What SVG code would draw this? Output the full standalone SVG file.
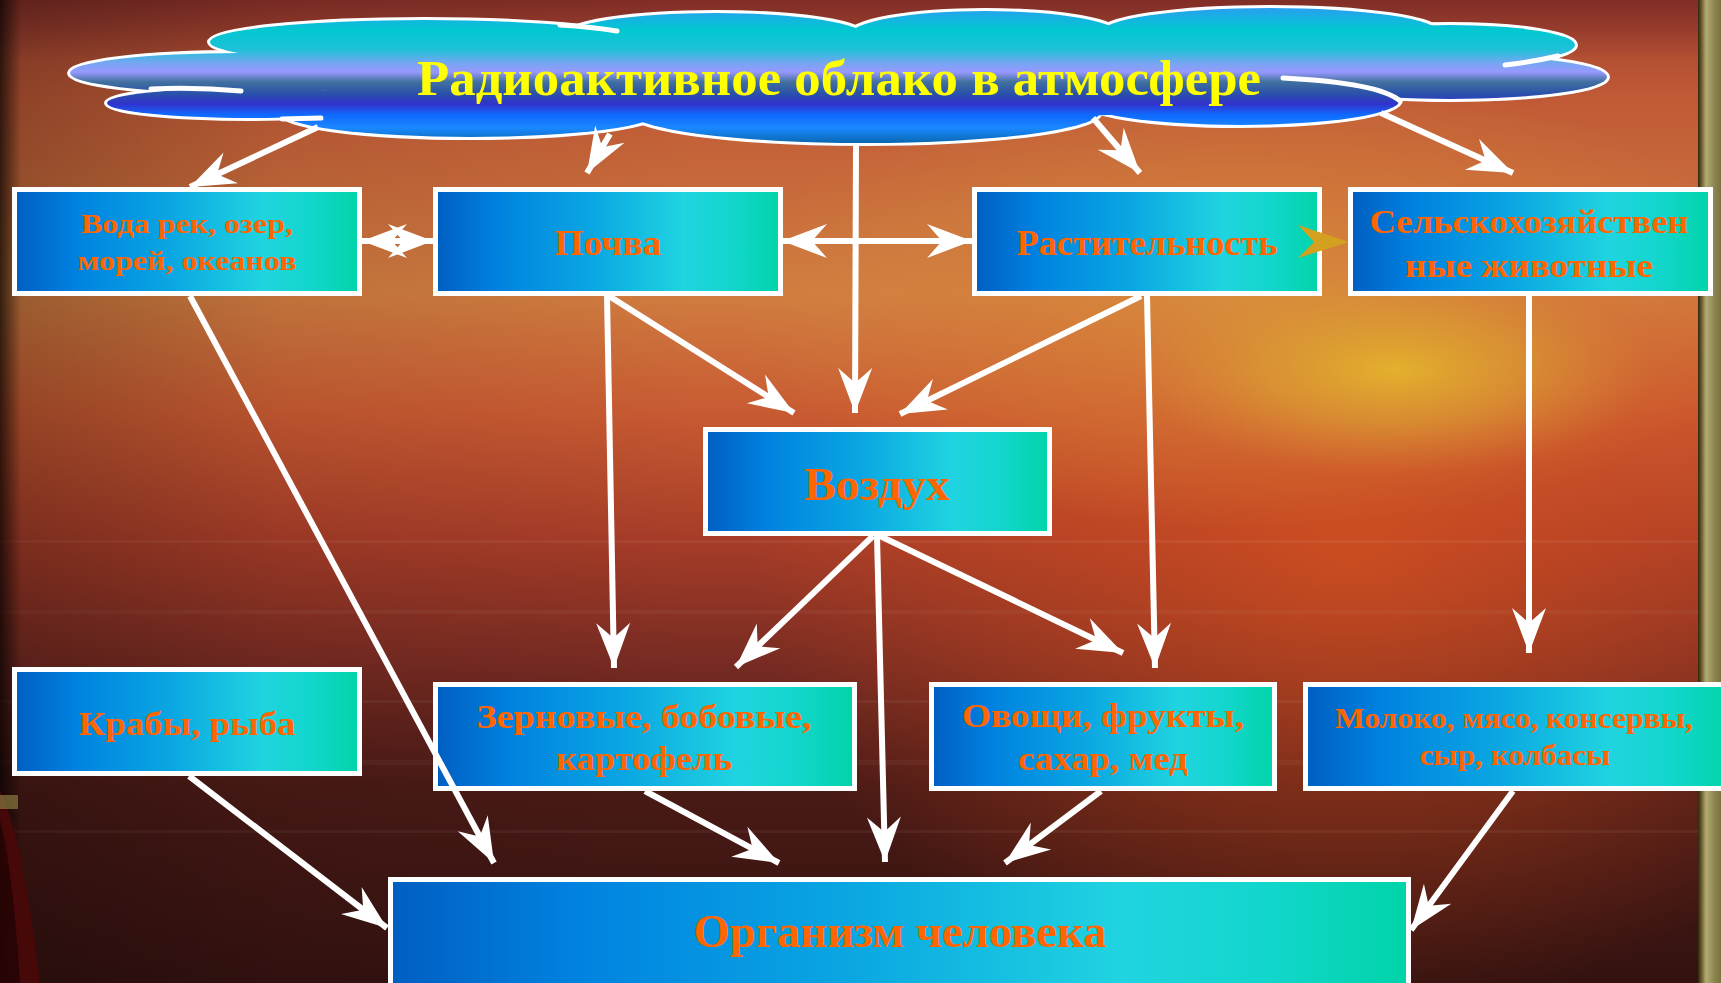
<svg xmlns="http://www.w3.org/2000/svg" width="1721" height="983" viewBox="0 0 1721 983">
<defs>
<linearGradient id="bgV" x1="0" y1="0" x2="0" y2="983" gradientUnits="userSpaceOnUse">
<stop offset="0" stop-color="#a24230"/>
<stop offset="0.1" stop-color="#c05a36"/>
<stop offset="0.3" stop-color="#d07c40"/>
<stop offset="0.42" stop-color="#c85a32"/>
<stop offset="0.55" stop-color="#a63c28"/>
<stop offset="0.68" stop-color="#752a22"/>
<stop offset="0.8" stop-color="#4a1a16"/>
<stop offset="1" stop-color="#341210"/>
</linearGradient>
<linearGradient id="bgL" x1="0" y1="0" x2="700" y2="0" gradientUnits="userSpaceOnUse">
<stop offset="0" stop-color="#000" stop-opacity="0.75"/>
<stop offset="0.03" stop-color="#000" stop-opacity="0.25"/>
<stop offset="0.4" stop-color="#000" stop-opacity="0.08"/>
<stop offset="1" stop-color="#000" stop-opacity="0"/>
</linearGradient>
<linearGradient id="bgTop" x1="0" y1="0" x2="0" y2="60" gradientUnits="userSpaceOnUse">
<stop offset="0" stop-color="#6a2020" stop-opacity="0.6"/>
<stop offset="1" stop-color="#6a2020" stop-opacity="0"/>
</linearGradient>
<radialGradient id="warm" cx="1350" cy="560" r="600" gradientUnits="userSpaceOnUse" gradientTransform="translate(1350 560) scale(1 0.75) translate(-1350 -560)">
<stop offset="0" stop-color="#e0561e" stop-opacity="0.65"/>
<stop offset="0.6" stop-color="#d8501e" stop-opacity="0.3"/>
<stop offset="1" stop-color="#d8501e" stop-opacity="0"/>
</radialGradient>
<radialGradient id="gold" cx="0.5" cy="0.5" r="0.5">
<stop offset="0" stop-color="#dca040" stop-opacity="0.6"/>
<stop offset="0.6" stop-color="#d89040" stop-opacity="0.3"/>
<stop offset="1" stop-color="#d89040" stop-opacity="0"/>
</radialGradient>
<radialGradient id="sun" cx="0.5" cy="0.5" r="0.5">
<stop offset="0" stop-color="#e4b42c" stop-opacity="0.95"/>
<stop offset="0.5" stop-color="#dca232" stop-opacity="0.6"/>
<stop offset="1" stop-color="#d89038" stop-opacity="0"/>
</radialGradient>
<linearGradient id="frame" x1="1698" y1="0" x2="1721" y2="0" gradientUnits="userSpaceOnUse">
<stop offset="0" stop-color="#2e2410"/>
<stop offset="0.15" stop-color="#6a5a2a"/>
<stop offset="0.35" stop-color="#b4ac74"/>
<stop offset="0.7" stop-color="#8e8650"/>
<stop offset="1" stop-color="#7a7240"/>
</linearGradient>
<linearGradient id="cloudG" x1="0" y1="8" x2="0" y2="143" gradientUnits="userSpaceOnUse">
<stop offset="0" stop-color="#28a0f0"/>
<stop offset="0.163" stop-color="#00c8d0"/>
<stop offset="0.31" stop-color="#20c0d8"/>
<stop offset="0.40" stop-color="#70a8f0"/>
<stop offset="0.474" stop-color="#9898ff"/>
<stop offset="0.548" stop-color="#40709e"/>
<stop offset="0.637" stop-color="#2a50aa"/>
<stop offset="0.711" stop-color="#3232cc"/>
<stop offset="0.793" stop-color="#0f6aff"/>
<stop offset="0.889" stop-color="#1a88ff"/>
<stop offset="1" stop-color="#0a68b0"/>
</linearGradient>
<linearGradient id="boxG" x1="0" y1="0" x2="1" y2="0">
<stop offset="0" stop-color="#005ec2"/>
<stop offset="0.18" stop-color="#0082e0"/>
<stop offset="0.45" stop-color="#0aa6e2"/>
<stop offset="0.72" stop-color="#20d4e0"/>
<stop offset="0.86" stop-color="#12d6cc"/>
<stop offset="1" stop-color="#00d4a8"/>
</linearGradient>
<marker id="ah" viewBox="-47 -19 49 38" markerWidth="49" markerHeight="38" refX="0" refY="0" orient="auto" markerUnits="userSpaceOnUse">
<path d="M0,0 L-45,-17 L-30,0 L-45,17 Z" fill="#ffffff"/>
</marker>
<marker id="ahs" viewBox="-47 -19 49 38" markerWidth="49" markerHeight="38" refX="0" refY="0" orient="auto-start-reverse" markerUnits="userSpaceOnUse">
<path d="M0,0 L-45,-17 L-30,0 L-45,17 Z" fill="#ffffff"/>
</marker>
</defs>
<style>
.box{fill:url(#boxG);stroke:#ffffff;stroke-width:5}
.t{font-family:"Liberation Serif","DejaVu Serif",serif;font-weight:bold;fill:#ff6600;text-anchor:middle}
.lobeS{fill:none;stroke:#ffffff;stroke-width:6}
.lobeF{fill:url(#cloudG);stroke:none}
.inner{fill:none;stroke:#ffffff;stroke-width:5;stroke-linecap:round}
.c{fill:none;stroke:#ffffff;stroke-width:6;marker-end:url(#ah)}
.c2{fill:none;stroke:#ffffff;stroke-width:6;marker-end:url(#ahs);marker-start:url(#ahs)}
</style>

<g id="background">
<rect x="0" y="0" width="1721" height="983" fill="url(#bgV)"/>
<rect x="0" y="0" width="1721" height="983" fill="url(#warm)"/>
<ellipse cx="1250" cy="300" rx="520" ry="230" fill="url(#gold)"/>
<ellipse cx="1395" cy="370" rx="260" ry="105" fill="url(#sun)"/>
<rect x="0" y="0" width="1721" height="60" fill="url(#bgTop)"/>
<rect x="0" y="540" width="1721" height="3" fill="#ffffff" opacity="0.05"/>
<rect x="0" y="610" width="1721" height="4" fill="#ffffff" opacity="0.04"/>
<rect x="0" y="700" width="1721" height="3" fill="#ffffff" opacity="0.05"/>
<rect x="0" y="760" width="1721" height="5" fill="#ffffff" opacity="0.04"/>
<rect x="0" y="830" width="1721" height="3" fill="#ffffff" opacity="0.05"/>
<rect x="0" y="0" width="1721" height="983" fill="url(#bgL)"/>
<path d="M0,790 C18,830 30,900 40,983 L0,983 Z" fill="#4a0808" opacity="0.9"/>
<path d="M0,820 C10,860 16,920 20,983 L0,983 Z" fill="#200404" opacity="0.8"/>
<rect x="0" y="795" width="18" height="14" fill="#8a7a40" opacity="0.7"/>
<rect x="1698" y="0" width="23" height="983" fill="url(#frame)"/>
</g>

<g id="cloud">
<g class="lobeS">
<ellipse cx="240" cy="73" rx="170" ry="20"/>
<ellipse cx="250" cy="103" rx="143" ry="15"/>
<ellipse cx="425" cy="42" rx="215" ry="22"/>
<ellipse cx="715" cy="36" rx="150" ry="23"/>
<ellipse cx="985" cy="35" rx="135" ry="24"/>
<ellipse cx="1270" cy="33" rx="170" ry="25"/>
<ellipse cx="1450" cy="45" rx="125" ry="20"/>
<ellipse cx="1450" cy="77" rx="157" ry="22"/>
<ellipse cx="1240" cy="100" rx="160" ry="25"/>
<ellipse cx="865" cy="112" rx="235" ry="31"/>
<ellipse cx="470" cy="112" rx="190" ry="25"/>
</g>
<g class="lobeF">
<ellipse cx="240" cy="73" rx="170" ry="20"/>
<ellipse cx="250" cy="103" rx="143" ry="15"/>
<ellipse cx="425" cy="42" rx="215" ry="22"/>
<ellipse cx="715" cy="36" rx="150" ry="23"/>
<ellipse cx="985" cy="35" rx="135" ry="24"/>
<ellipse cx="1270" cy="33" rx="170" ry="25"/>
<ellipse cx="1450" cy="45" rx="125" ry="20"/>
<ellipse cx="1450" cy="77" rx="157" ry="22"/>
<ellipse cx="1240" cy="100" rx="160" ry="25"/>
<ellipse cx="865" cy="112" rx="235" ry="31"/>
<ellipse cx="470" cy="112" rx="190" ry="25"/>
<ellipse cx="850" cy="75" rx="560" ry="45"/>
</g>
<g class="inner">
<path d="M151,89 Q196,87 241,91"/>
<path d="M560,25 Q592,27 617,31"/>
<path d="M1505,65 Q1532,62 1558,56"/>
<path d="M1283,78 Q1380,83 1400,101"/>
<path d="M282,119 L321,118"/>
</g>
<text x="839" y="95" font-family="Liberation Serif, DejaVu Serif, serif" font-weight="bold" font-size="50" fill="#ffff00" text-anchor="middle" textLength="844" lengthAdjust="spacingAndGlyphs">Радиоактивное облако в атмосфере</text>
</g>

<g id="node-voda">
<rect class="box" x="14.5" y="189.5" width="345" height="104"/>
<text class="t" x="187" y="233" font-size="28" textLength="212" lengthAdjust="spacingAndGlyphs">Вода рек, озер,</text>
<text class="t" x="187" y="270" font-size="28" textLength="219" lengthAdjust="spacingAndGlyphs">морей, океанов</text>
</g>
<g id="node-pochva">
<rect class="box" x="435.5" y="189.5" width="345" height="104"/>
<text class="t" x="608" y="255" font-size="36" textLength="107" lengthAdjust="spacingAndGlyphs">Почва</text>
</g>
<g id="node-rast">
<rect class="box" x="974.5" y="189.5" width="345" height="104"/>
<text class="t" x="1147" y="255" font-size="36" textLength="261" lengthAdjust="spacingAndGlyphs">Растительность</text>
</g>
<g id="node-selhoz">
<rect class="box" x="1350.5" y="189.5" width="360" height="104"/>
<text class="t" x="1529" y="233" font-size="33" textLength="319" lengthAdjust="spacingAndGlyphs">Сельскохозяйствен</text>
<text class="t" x="1529" y="277" font-size="33" textLength="248" lengthAdjust="spacingAndGlyphs">ные животные</text>
</g>
<g id="node-vozduh">
<rect class="box" x="705.5" y="429.5" width="344" height="104"/>
<text class="t" x="877" y="500" font-size="46" textLength="146" lengthAdjust="spacingAndGlyphs">Воздух</text>
</g>
<g id="node-kraby">
<rect class="box" x="14.5" y="669.5" width="345" height="104"/>
<text class="t" x="187" y="735" font-size="34" textLength="217" lengthAdjust="spacingAndGlyphs">Крабы, рыба</text>
</g>
<g id="node-zernovye">
<rect class="box" x="435.5" y="684.5" width="419" height="104"/>
<text class="t" x="644" y="728" font-size="34" textLength="335" lengthAdjust="spacingAndGlyphs">Зерновые, бобовые,</text>
<text class="t" x="644" y="770" font-size="34" textLength="176" lengthAdjust="spacingAndGlyphs">картофель</text>
</g>
<g id="node-ovoshchi">
<rect class="box" x="931.5" y="684.5" width="343" height="104"/>
<text class="t" x="1103" y="727" font-size="34" textLength="282" lengthAdjust="spacingAndGlyphs">Овощи, фрукты,</text>
<text class="t" x="1103" y="770" font-size="34" textLength="170" lengthAdjust="spacingAndGlyphs">сахар, мед</text>
</g>
<g id="node-moloko">
<rect class="box" x="1305.5" y="684.5" width="425" height="104"/>
<text class="t" x="1514" y="728" font-size="30" textLength="358" lengthAdjust="spacingAndGlyphs">Молоко, мясо, консервы,</text>
<text class="t" x="1515" y="765" font-size="30" textLength="191" lengthAdjust="spacingAndGlyphs">сыр, колбасы</text>
</g>
<g id="node-organizm">
<rect class="box" x="390.5" y="879.5" width="1018" height="120"/>
<text class="t" x="900" y="947" font-size="46" textLength="413" lengthAdjust="spacingAndGlyphs">Организм человека</text>
</g>

<g id="connectors">
<path class="c" d="M318,127 L190,187"/>
<path class="c" d="M610,134 L587,173"/>
<path class="c" d="M1093,118 L1140,173"/>
<path class="c" d="M1381,113 L1513,173"/>
<path class="c" d="M856,143 L855,413"/>
<path class="c2" d="M782,241 L972,241"/>
<path class="c2" d="M362,241 L433,241"/>
<path class="c" d="M190,296 L494,863"/>
<path class="c" d="M607,296 L614,668"/>
<path class="c" d="M609,296 L794,413"/>
<path class="c" d="M1141,296 L900,414"/>
<path class="c" d="M1147,296 L1155,668"/>
<path class="c" d="M1529,296 L1529,653"/>
<path class="c" d="M873,536 L736,667"/>
<path class="c" d="M877,536 L885,862"/>
<path class="c" d="M880,536 L1123,653"/>
<path class="c" d="M189,776 L387,928"/>
<path class="c" d="M645,791 L779,863"/>
<path class="c" d="M1101,791 L1005,863"/>
<path class="c" d="M1513,791 L1411,930"/>
<path d="M1298,225 L1349,242 L1298,258 L1314,242 Z" fill="#d4a020"/>
</g>
</svg>
